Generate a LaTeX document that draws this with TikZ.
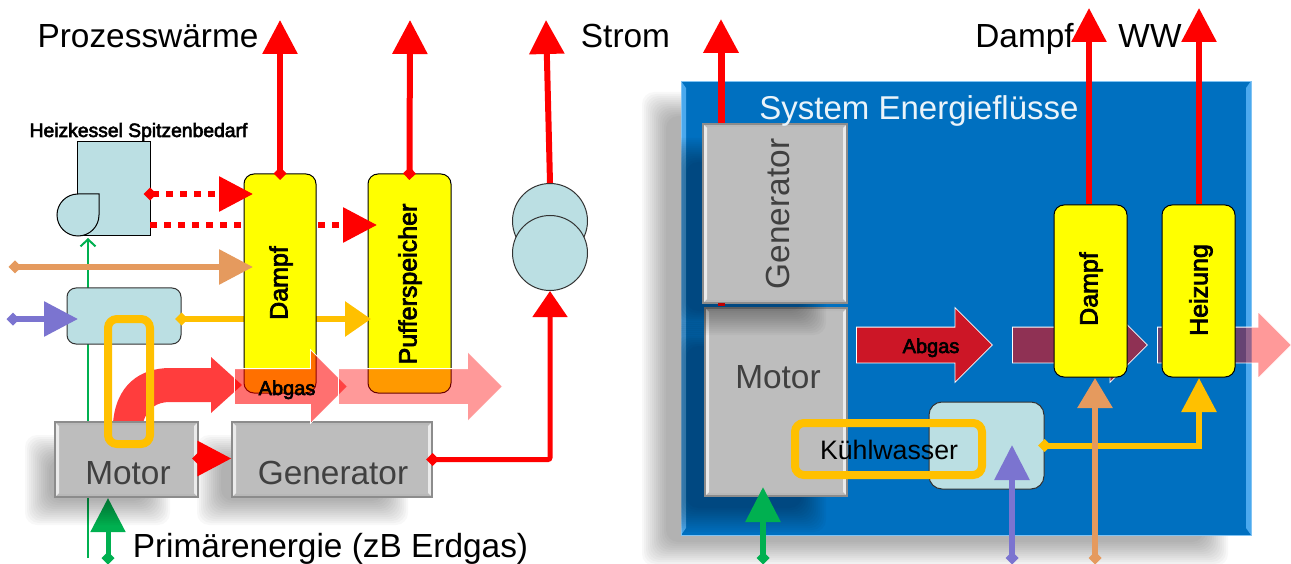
\documentclass[tikz,border=0pt]{standalone}
\usepackage{fontspec}
\setmainfont{Liberation Sans}
\newfontfamily\heavyfont[FakeBold=3]{Liberation Sans}
\usetikzlibrary{
  arrows.meta,
  shapes.arrows
}
\definecolor{flowred}{HTML}{FF0000}
\definecolor{flowtan}{HTML}{E59A5E}
\definecolor{flowviolet}{HTML}{7B74D0}
\definecolor{flowgold}{HTML}{FFC000}
\definecolor{flowgreen}{HTML}{00B050}
\definecolor{paleblue}{HTML}{BBDFE3}
\definecolor{panelblue}{HTML}{0070C0}
\definecolor{edgeblue}{HTML}{4BA9EE}
\definecolor{boxgray}{HTML}{BDBDBD}
\definecolor{textgray}{HTML}{404040}
\definecolor{storeyellow}{HTML}{FFFF00}
\tikzset{>=stealth}
\tikzset{
  flow/.style={line width=6pt, line join=miter, {Diamond[length=13pt,width=13pt]}-{Triangle[length=#1,width=34pt]}, shorten <=-6.5pt},
  flow/.default=34pt,
  plainflow/.style={line width=6pt, -{Triangle[length=34pt,width=34pt]}},
  dotflow/.style={flow, dash pattern=on 7pt off 7pt},
  storage/.style={rectangle, draw=black, line width=1pt, fill=storeyellow, rounded corners=10pt, inner sep=0pt},
  exchanger/.style={rectangle, draw=black!80, line width=1pt, fill=paleblue, rounded corners=9pt, inner sep=0pt},
  loopline/.style={rectangle, draw=flowgold, line width=8pt, rounded corners=9pt, inner sep=0pt},
  grayblock/.style={rectangle, draw=black!45, line width=1.2pt, fill=boxgray, inner sep=0pt, path picture={
      \fill[white!92!black] (path picture bounding box.north west) -- ++(4,4) -- ([shift={(4,-4)}]path picture bounding box.south west) -- (path picture bounding box.south west) -- cycle;
      \fill[white!92!black] (path picture bounding box.north east) -- ++(-4,4) -- ([shift={(-4,-4)}]path picture bounding box.south east) -- (path picture bounding box.south east) -- cycle;
      \fill[white!72!black] (path picture bounding box.north west) -- ++(4,3) -- ([shift={(-4,3)}]path picture bounding box.north east) -- (path picture bounding box.north east) -- cycle;
      \fill[white!72!black] (path picture bounding box.south west) -- ++(4,-3) -- ([shift={(-4,-3)}]path picture bounding box.south east) -- (path picture bounding box.south east) -- cycle;
    }},
  bluepanel/.style={rectangle, draw=edgeblue!70!white, line width=.8pt, fill=panelblue, inner sep=0pt, path picture={
      \fill[edgeblue] (path picture bounding box.north west) -- ++(5,7) -- ([shift={(5,-7)}]path picture bounding box.south west) -- (path picture bounding box.south west) -- cycle;
      \fill[edgeblue] (path picture bounding box.north east) -- ++(-5,7) -- ([shift={(-5,-7)}]path picture bounding box.south east) -- (path picture bounding box.south east) -- cycle;
    }},
  trafo/.style={circle, draw=black!80, line width=1pt, fill=paleblue, minimum size=75pt, inner sep=0pt},
  abgasflow/.style={single arrow, draw=white, line width=.8pt, fill=flowred, inner xsep=0pt, inner ysep=17.5pt, single arrow head indent=0pt, anchor=tail},
  bigtext/.style={font=\fontsize{33.4}{36}\selectfont, anchor=base, inner sep=0pt},
  boxtext/.style={bigtext, text=textgray},
  abgastext/.style={font=\heavyfont\fontsize{20}{24}\selectfont, anchor=base, inner sep=0pt},
  sidetext/.style={font=\heavyfont\fontsize{25}{28}\selectfont, rotate=90, inner sep=0pt}
}
\newcommand{\softshadow}[4]{
  \foreach \i in {0,2,...,24}{
    \fill[black,opacity=.028,rounded corners=12pt] ({#1+\i},{#2+\i}) rectangle ({#3-\i},{#4-\i});
  }
}
\begin{document}
\begin{tikzpicture}[x=1pt,y=-1pt]
	\useasboundingbox (0,0) rectangle (1291,564);
	\coordinate (leafA) at (280,20);
	\coordinate (leafB) at (410,20);
	\coordinate (leafC) at (546,20);
	\coordinate (dotA) at (150,194);
	\coordinate (dotAend) at (253,194);
	\coordinate (dotB) at (150,225);
	\coordinate (dotBend) at (377,225);
	\coordinate (tanStart) at (15,267);
	\coordinate (tanEnd) at (253,267);
	\coordinate (violetStart) at (13,319);
	\coordinate (violetEnd) at (78,319);
	\coordinate (goldEnd) at (371,319);
	\coordinate (thinStart) at (88,558);
	\coordinate (thinEnd) at (88,238);
	\coordinate (fuelStart) at (108,558);
	\coordinate (fuelEnd) at (108,498);
	\coordinate (rightFuelStart) at (763,558);
	\coordinate (rightFuelEnd) at (763,487);
	\coordinate (rightVioletStart) at (1012,558);
	\coordinate (rightVioletEnd) at (1012,445);
	\coordinate (rightTanStart) at (1095,558);
	\coordinate (rightTanEnd) at (1095,378);
	\coordinate (rightGoldEnd) at (1199,378);
	\coordinate (leafD) at (721,19);
	\coordinate (leafE) at (1089,8);
	\coordinate (leafF) at (1199,8);
	\draw[flowgreen,line width=2pt,-{Straight Barb[length=7pt,width=15pt]}] (thinStart) -- (thinEnd);
	\draw[flow,flowgreen,line width=5pt] (fuelStart) -- (fuelEnd);
	\softshadow{25}{435}{170}{525}
	\softshadow{197}{435}{408}{525}
	\fill[flowred,opacity=.76] (113,423) .. controls (116,385) and (140,368) .. (170,368) -- (211,368) -- (211,357) -- (242,385) -- (211,413) -- (211,402) -- (170,402) .. controls (157,402) and (147,408) .. (143,423) -- cycle;
	\node[grayblock,minimum width=143pt,minimum height=75pt] (motorL) at (126.5,459.5) {};
	\node[grayblock,minimum width=200pt,minimum height=75pt] (generatorL) at (332,459.5) {};
	\node[boxtext] (motorLtext) at (128,484) {Motor};
	\node[boxtext] (generatorLtext) at (333,484) {Generator};
	\node[storage,minimum width=83pt,minimum height=219pt] (puffer) at (409.5,283.5) {};
	\node[exchanger,minimum width=114pt,minimum height=56pt] (hxL) at (124,316) {};
	\node[rectangle,draw=black,line width=1pt,fill=paleblue,minimum width=73pt,minimum height=94pt,inner sep=0pt] (kessel) at (113.5,189) {};
	\draw[flow=26pt,flowgold] (hxL.east |- goldEnd) -- (goldEnd);
	\draw[dotflow,flowred,-{Triangle[length=34pt,width=34pt]},shorten <=0pt] (dotB) -- (dotBend);
	\node[storage,minimum width=72pt,minimum height=219pt] (dampfL) at (280,283.5) {};
	\node[sidetext] (dampfLtext) at (281,283) {Dampf};
	\node[sidetext] (puffertext) at (410,284) {Pufferspeicher};
	\filldraw[fill=paleblue,draw=black,line width=1pt] (99,194) -- (78,194) .. controls (66.4,194) and (57,203.4) .. (57,215) .. controls (57,226.6) and (66.4,236) .. (78,236) .. controls (89.6,236) and (99,226.6) .. (99,215) -- cycle;
	\draw[dotflow,flowred] (dotA) -- (dotAend);
	\draw[flow,flowtan] (tanStart) -- (tanEnd);
	\draw[flow,flowviolet] (violetStart) -- (violetEnd);
	\draw[flow,flowred] (dampfL.north) -- (leafA);
	\draw[flow,flowred] (puffer.north) -- (leafB);
	\node[loopline,minimum width=42pt,minimum height=125pt] (loopL) at (129,381.5) {};
	\node[abgasflow,fill opacity=.56,minimum height=113pt,single arrow head extend=19pt] (abgasA) at (234,386.5) {};
	\node[abgasflow,fill opacity=.4,minimum height=164pt,single arrow head extend=17pt] (abgasB) at (338,386.5) {};
	\node[abgastext] (abgasAtext) at (287,395) {Abgas};
	\draw[flow,flowred] ([yshift=1pt]motorL.east) -- ([yshift=1pt]generatorL.west);
	\node[trafo] (trafoTop) at (550,221) {};
	\draw[plainflow,flowred] (trafoTop.north) -- (leafC);
	\node[trafo] (trafoBottom) at (550,253) {};
	\draw[flow=26pt,flowred,line width=5pt,rounded corners=2pt] (generatorL.east) -- (trafoBottom.south |- generatorL.east) -- (trafoBottom.south);
	\node[font=\heavyfont\fontsize{19.3}{22}\selectfont,anchor=base,inner sep=0pt] (kesseltext) at (138.5,137) {Heizkessel Spitzenbedarf};
	\node[bigtext] (prozesstext) at (148,48) {Prozesswärme};
	\node[bigtext] (stromtext) at (625.5,48) {Strom};
	\node[bigtext] (primaertext) at (330.5,557) {Primärenergie (zB Erdgas)};
	\softshadow{642}{92}{1228}{566}
	\node[bluepanel,minimum width=570pt,minimum height=454pt] (panel) at (966,308) {};
	\begin{scope}
		\clip (681,81) rectangle (1251,535);
		\softshadow{662}{322}{826}{532}
	\end{scope}
	\node[grayblock,minimum width=142pt,minimum height=188pt] (motorR) at (776,402) {};
	\begin{scope}
		\clip (681,81) rectangle (1251,535);
		\softshadow{662}{138}{826}{335}
	\end{scope}
	\node[grayblock,minimum width=144pt,minimum height=179pt] (generatorR) at (775,213.5) {};
	\fill[red!75!black] (718,303) rectangle (725,306);
	\node[boxtext,anchor=center,rotate=90] (generatorRtext) at (778,214) {Generator};
	\node[boxtext] (motorRtext) at (778,388) {Motor};
	\node[font=\fontsize{33}{36}\selectfont,anchor=base,text=white!92!panelblue,inner sep=0pt] (systemtext) at (919,120) {System Energieflüsse};
	\draw[plainflow,flowred,line width=7pt] ([xshift=-54pt]generatorR.north) -- (leafD);
	\node[abgasflow,fill opacity=.8,minimum height=136pt,single arrow head extend=19.5pt] (abgasC) at (856,345) {};
	\node[abgastext] (abgasCtext) at (931,353) {Abgas};
	\node[abgasflow,fill opacity=.56,minimum height=135pt,single arrow head extend=19.5pt] (abgasD) at (1012,345) {};
	\node[abgasflow,fill opacity=.4,minimum height=134pt,single arrow head extend=15.5pt] (abgasE) at (1157,345) {};
	\node[storage,minimum width=73pt,minimum height=172pt] (dampfR) at (1090.5,291) {};
	\node[storage,minimum width=73pt,minimum height=172pt] (heizung) at (1198.5,291) {};
	\draw[plainflow,flowred] ([xshift=-1.5pt]dampfR.north) -- (leafE);
	\draw[plainflow,flowred] ([xshift=.5pt]heizung.north) -- (leafF);
	\node[sidetext] (dampfRtext) at (1091,289) {Dampf};
	\node[sidetext] (heizungtext) at (1201,290) {Heizung};
	\node[exchanger,minimum width=115pt,minimum height=87pt,rounded corners=13pt] (hxR) at (986.5,445.5) {};
	\draw[flow,flowgold] (hxR.east) -- (rightGoldEnd |- hxR.east) -- (rightGoldEnd);
	\draw[flow=30pt,flowtan] (rightTanStart) -- (rightTanEnd);
	\draw[flow=35pt,flowviolet] (rightVioletStart) -- (rightVioletEnd);
	\draw[flow=35pt,flowgreen] (rightFuelStart) -- (rightFuelEnd);
	\node[loopline,minimum width=187pt,minimum height=52pt] (loopR) at (888.5,449) {};
	\node[font=\fontsize{26.7}{30}\selectfont,anchor=base,inner sep=0pt] (kuehltext) at (889,459) {Kühlwasser};
	\node[bigtext] (dampftext) at (1024.5,48) {Dampf};
	\node[bigtext] (wwtext) at (1150,48) {WW};
\end{tikzpicture}
\end{document}
